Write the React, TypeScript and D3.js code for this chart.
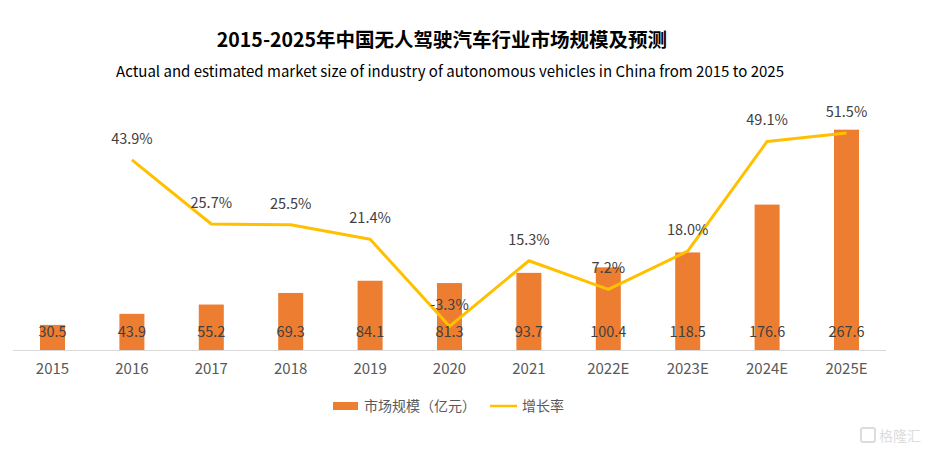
import React from "react"
import * as d3 from "d3"

const years = ["2015", "2016", "2017", "2018", "2019", "2020", "2021", "2022E", "2023E", "2024E", "2025E"]
const marketSize = [30.5, 43.9, 55.2, 69.3, 84.1, 81.3, 93.7, 100.4, 118.5, 176.6, 267.6]
// growth rate starts in 2016
const growthYears = ["2016", "2017", "2018", "2019", "2020", "2021", "2022E", "2023E", "2024E", "2025E"]
const growthRate = [43.9, 25.7, 25.5, 21.4, -3.3, 15.3, 7.2, 18.0, 49.1, 51.5]

const FONT = "'Noto Sans CJK SC', 'Noto Sans', sans-serif"

export default function App() {
  const width = 937
  const height = 454
  const left = 13
  const right = 886
  const baseY = 350
  const topY = 103

  const x = d3.scaleBand().domain(years).range([left, right]).paddingInner(0.685).paddingOuter(0.34)
  const y = d3.scaleLinear().domain([0, 300]).range([baseY, topY])
  const y2 = d3.scaleLinear().domain([-10, 60]).range([baseY, topY])
  const cx = (d: string) => (x(d) || 0) + x.bandwidth() / 2

  const line = d3
    .line<number>()
    .x((_, i) => cx(growthYears[i]))
    .y((d) => y2(d))

  return (
    <svg width={width} height={height} style={{ position: "absolute", left: 0, top: 0, background: "#fff" }}>
      <text x={442} y={47} textAnchor="middle" fontFamily={FONT} fontSize={19.5} fontWeight="bold" fill="#000">
        2015-2025年中国无人驾驶汽车行业市场规模及预测
      </text>
      <text x={450} y={77} textAnchor="middle" fontFamily={FONT} fontSize={15} fill="#000">
        Actual and estimated market size of industry of autonomous vehicles in China from 2015 to 2025
      </text>

      {years.map((d, i) => (
        <rect key={d} x={x(d)} y={y(marketSize[i])} width={x.bandwidth()} height={baseY - y(marketSize[i])} fill="#ED7D31" />
      ))}

      <line x1={left} x2={right} y1={baseY + 0.5} y2={baseY + 0.5} stroke="#D9D9D9" strokeWidth={1} />

      {years.map((d) => (
        <text key={d} x={cx(d)} y={374} textAnchor="middle" fontFamily={FONT} fontSize={15} fill="#595959">
          {d}
        </text>
      ))}

      <path d={line(growthRate) || ""} fill="none" stroke="#FFC000" strokeWidth={3} strokeLinejoin="round" />

      {years.map((d, i) => (
        <text key={d} x={cx(d)} y={337} textAnchor="middle" fontFamily={FONT} fontSize={14.5} fill="#404040">
          {marketSize[i].toFixed(1)}
        </text>
      ))}

      {growthYears.map((d, i) => (
        <text key={d} x={cx(d)} y={y2(growthRate[i]) - 16} textAnchor="middle" fontFamily={FONT} fontSize={14.5} fill="#404040">
          {growthRate[i].toFixed(1)}%
        </text>
      ))}

      <g fontFamily={FONT} fontSize={14} fill="#595959">
        <rect x={333} y={402} width={25} height={8} fill="#ED7D31" />
        <text x={364} y={411}>市场规模（亿元）</text>
        <line x1={490} x2={517} y1={406} y2={406} stroke="#FFC000" strokeWidth={2.5} />
        <text x={522} y={411}>增长率</text>
      </g>

      <g opacity={0.5}>
        <rect x={861} y={428} width={14} height={14} rx={2} fill="none" stroke="#bbb" strokeWidth={2} />
        <text x={879} y={441} fontFamily={FONT} fontSize={14} fill="#bbb">格隆汇</text>
      </g>
    </svg>
  )
}
